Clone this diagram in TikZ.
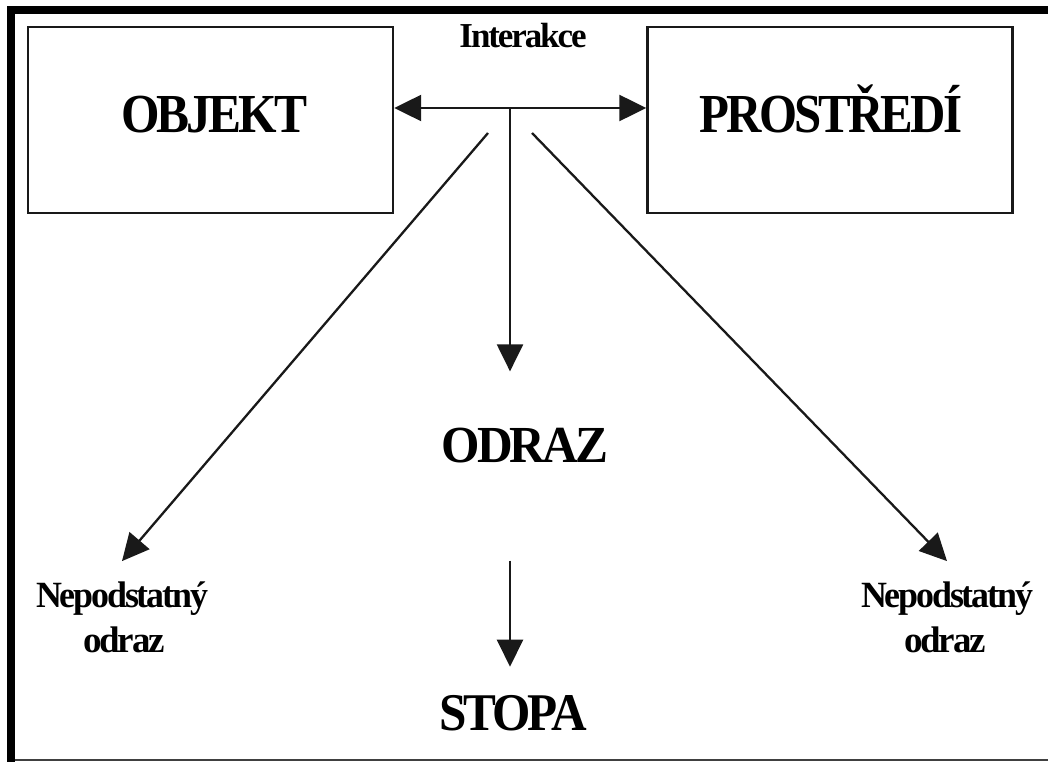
\documentclass[tikz,border=0pt]{standalone}
\usepackage{fontspec}
\usepackage{graphicx}
\setmainfont{Liberation Serif}
\newfontfamily\tightbf[LetterSpace=-6,BoldFont={Liberation Serif Bold}]{Liberation Serif}
\usetikzlibrary{arrows.meta}
\newcommand{\sq}[2]{\scalebox{#1}[1]{#2}}
\newcommand{\fs}[1]{\fontsize{#1}{#1}\selectfont}
\tikzset{
  frame/.style={fill=black, draw=none},
  boxnode/.style={draw=black!90, line width=2.4pt, rectangle, inner sep=0pt,
    minimum width=365pt, minimum height=186pt},
  txt/.style={inner sep=0pt, anchor=base, font=\tightbf\bfseries, text=black},
  arr/.style={line width=2.3pt, draw=black!90, -{Triangle[length=27pt,width=26pt]}}
}
\begin{document}
\begin{tikzpicture}[x=1pt,y=-1pt]
\useasboundingbox (0,0) rectangle (1048,762);
% outer frame
\fill[frame] (7,6) rectangle (1048,14);
\fill[frame] (7,6) rectangle (15,762);
\draw[line width=1.5pt, black!75] (15,760) -- (1048,760);
% boxes
\node[boxnode] (objekt) at (210.5,120) {};
\node[boxnode] (prostredi) at (830,120) {};
\node[txt] (objt) at (214,133) {\fs{55}\sq{0.90}{OBJEKT}};
\node[txt] (prot) at (831,133) {\fs{55}\sq{0.89}{PROSTŘEDÍ}};
% texts
\node[txt] (inter) at (523,48) {\fs{35}\sq{1.0}{Interakce}};
\node[txt] (odraz) at (525,462) {\fs{52}\sq{0.95}{ODRAZ}};
\node[txt] (stopa) at (513,730) {\fs{53}\sq{0.93}{STOPA}};
\node[txt] (nepL) at (122,607) {\fs{37}\sq{0.97}{Nepodstatný}};
\node[txt] (odL) at (124,652) {\fs{37}\sq{1.0}{odraz}};
\node[txt] (nepR) at (947,607) {\fs{37}\sq{0.97}{Nepodstatný}};
\node[txt] (odR) at (945,652) {\fs{37}\sq{1.0}{odraz}};
% connectors
\coordinate (J) at (510,108);
\coordinate (dl) at (488,133);
\coordinate (dr) at (532,133);
\draw[arr] (J) -- (J -| objekt.east);
\draw[arr] (J) -- (J -| prostredi.west);
\draw[arr, shorten >=56pt] (J) -- (J |- odraz.north);
\draw[arr, shorten <=98pt, shorten >=28pt] (odraz.south -| J) -- (J |- stopa.north);
\draw[arr] (dl) -- ([yshift=20pt]nepL.north);
\draw[arr] (dr) -- ([yshift=20pt]nepR.north);
\end{tikzpicture}
\end{document}
